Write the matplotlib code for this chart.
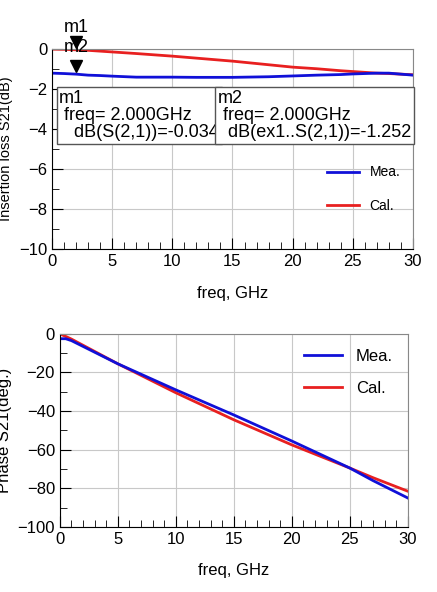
import matplotlib
matplotlib.use("Agg")
import matplotlib.pyplot as plt
from matplotlib.ticker import MultipleLocator

plt.rcParams["font.family"] = ["Liberation Sans", "DejaVu Sans"]

# insertion loss (dB)
freq_il = [0, 1, 2, 3, 4, 5, 7, 10, 12, 15, 18, 20, 22, 24, 25, 27, 28, 29, 30]
mea_il = [-1.20, -1.22, -1.25, -1.30, -1.32, -1.35, -1.40, -1.40, -1.41, -1.41,
          -1.38, -1.34, -1.30, -1.27, -1.24, -1.20, -1.20, -1.25, -1.30]
cal_il = [0.0, -0.01, -0.034, -0.06, -0.10, -0.14, -0.22, -0.35, -0.45, -0.60,
          -0.78, -0.90, -0.98, -1.08, -1.12, -1.20, -1.22, -1.25, -1.28]

# phase (deg)
freq_ph = [0, 0.5, 1, 5, 10, 15, 20, 25, 27, 30]
mea_ph = [-2.5, -2.5, -3.5, -15.5, -29, -42, -55.5, -69.5, -76, -85]
cal_ph = [0, -1.3, -2.7, -15.5, -30.5, -44.5, -57.5, -69.5, -74.5, -81.5]

fig = plt.figure(figsize=(4.37, 5.92), dpi=100)
ax1 = fig.add_axes([0.119, 0.579, 0.826, 0.338])
ax2 = fig.add_axes([0.137, 0.110, 0.796, 0.326])


def style(ax, ymin, ymax, ymaj, ymin_step):
    ax.set_xlim(0, 30)
    ax.set_ylim(ymin, ymax)
    ax.xaxis.set_major_locator(MultipleLocator(5))
    ax.xaxis.set_minor_locator(MultipleLocator(1))
    ax.yaxis.set_major_locator(MultipleLocator(ymaj))
    ax.yaxis.set_minor_locator(MultipleLocator(ymin_step))
    ax.grid(True, which="major", color="#c8c8c8", linewidth=0.8)
    ax.tick_params(which="both", direction="in", labelsize=12, top=False, right=False)
    ax.tick_params(which="major", length=8)
    ax.tick_params(which="minor", length=5)
    for s in ax.spines.values():
        s.set_color("#888888")
    ax.spines["left"].set_color("black")
    ax.spines["bottom"].set_color("black")
    ax.set_xlabel("freq, GHz", fontsize=12, labelpad=12)


ax1.plot(freq_il, cal_il, color="#e82020", lw=2, label="Cal.")
ax1.plot(freq_il, mea_il, color="#1010d8", lw=2, label="Mea.")
style(ax1, -10, 0, 2, 1)
ax1.set_ylabel("Insertion loss S21(dB)", fontsize=10.5)
h, l = ax1.get_legend_handles_labels()
ax1.legend(h[::-1], l[::-1], loc="center right", bbox_to_anchor=(1.0, 0.3),
           frameon=False, fontsize=10, handlelength=2.3, labelspacing=1.4)

# markers
ax1.plot([2], [0.35], marker="v", color="black", ms=9, clip_on=False)
ax1.plot([2], [-0.85], marker="v", color="black", ms=9)
ax1.text(2, 0.65, "m1", fontsize=13, ha="center", va="bottom")
ax1.text(2, -0.35, "m2", fontsize=13, ha="center", va="bottom")
ax1.text(0.6, -2.05, "m1\n freq= 2.000GHz\n   dB(S(2,1))=-0.034", fontsize=13, va="top",
         linespacing=1.0,
         bbox=dict(boxstyle="square,pad=0.15", fc="white", ec="#555555"))
ax1.text(13.8, -2.05, "m2\n freq= 2.000GHz\n  dB(ex1..S(2,1))=-1.252", fontsize=13, va="top",
         linespacing=1.0,
         bbox=dict(boxstyle="square,pad=0.15", fc="white", ec="#555555"))

ax2.plot(freq_ph, cal_ph, color="#e82020", lw=2, label="Cal.")
ax2.plot(freq_ph, mea_ph, color="#1010d8", lw=2, label="Mea.")
style(ax2, -100, 0, 20, 10)
ax2.set_ylabel("Phase S21(deg.)", fontsize=12)
h, l = ax2.get_legend_handles_labels()
ax2.legend(h[::-1], l[::-1], loc="upper right", frameon=False, fontsize=12,
           handlelength=2.3, labelspacing=1.0)

fig.savefig("out.png", dpi=100, facecolor="white")
